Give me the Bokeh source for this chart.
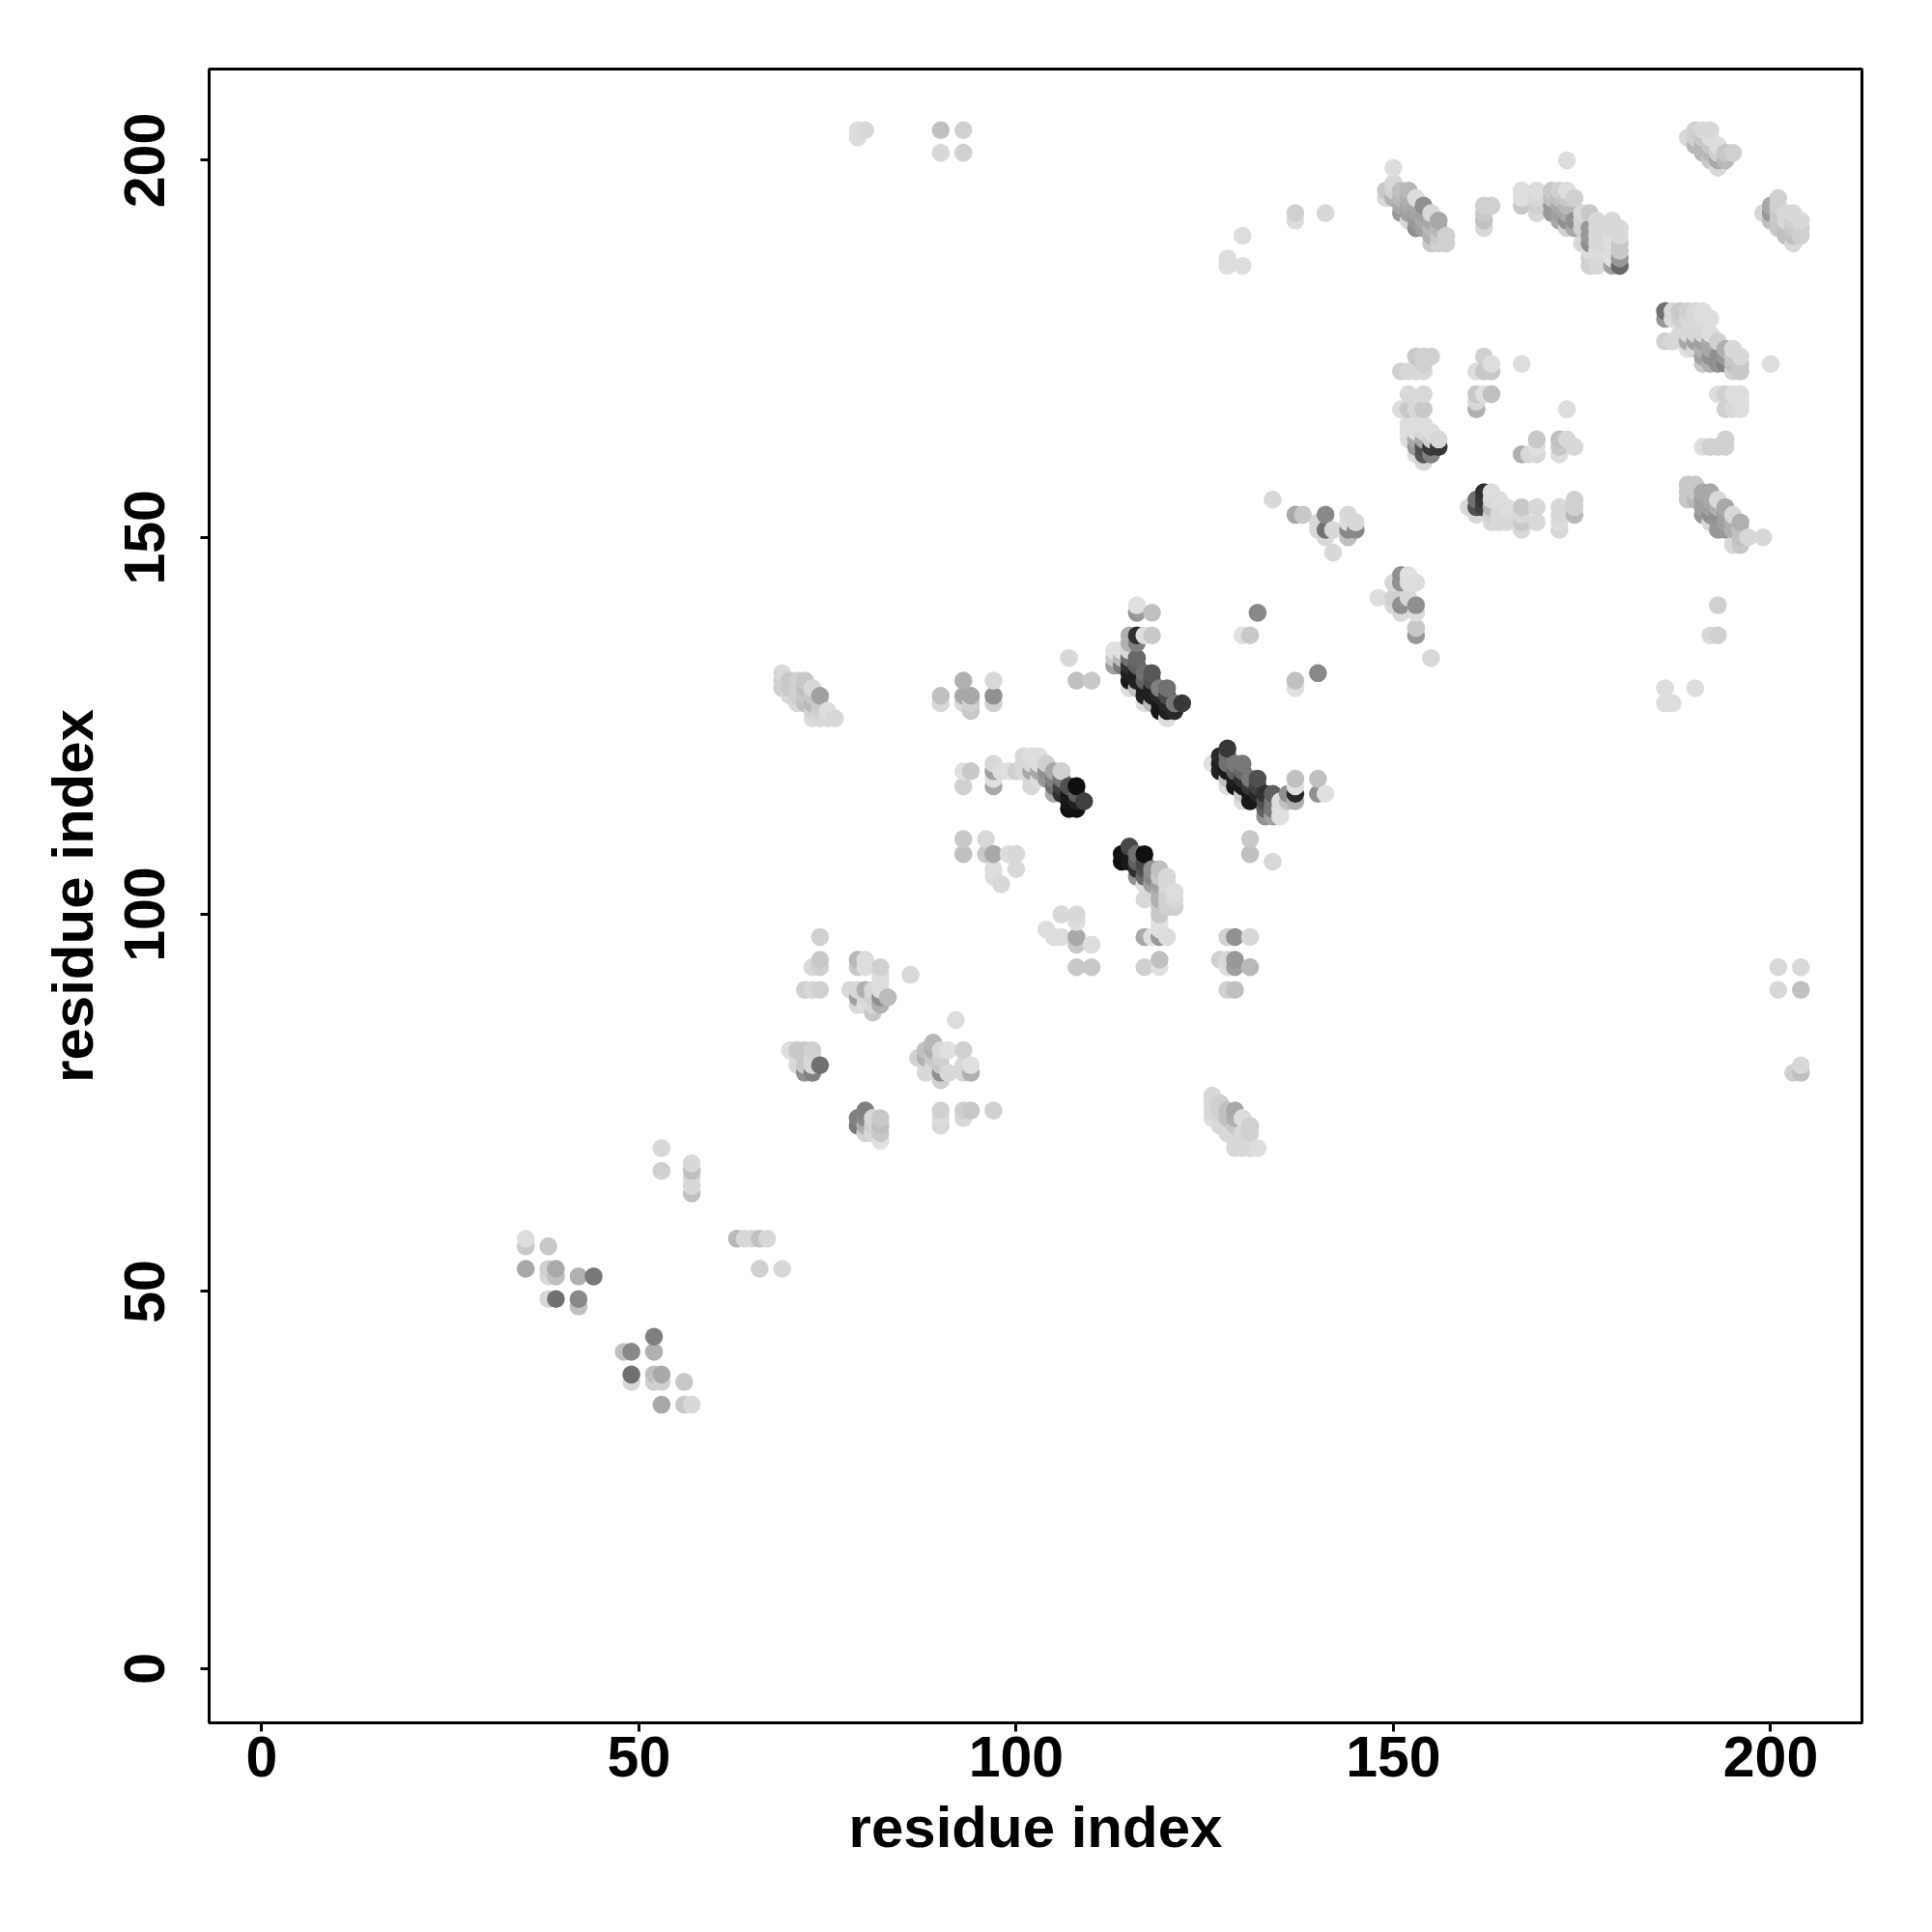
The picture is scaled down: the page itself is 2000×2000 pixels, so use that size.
from bokeh.plotting import figure
from bokeh.embed import file_html
from bokeh.resources import INLINE
from bokeh.models import FixedTicker, Range1d, ColumnDataSource

x_ticks = [0, 50, 100, 150, 200]
y_ticks = [0, 50, 100, 150, 200]
axis_title = "residue index"

# (residue i, residue j, grey level), region by region
c_35_60 = [(35,57,0xdd),(35,56,0xc8),(38,56,0xc8),(35,53,0xa8),(38,53,0xd0),(39,53,0xaa),(38,52,0xd8),(39,52,0xc0),
 (42,52,0xb0),(44,52,0x78),(38,49,0xd8),(39,49,0x70),(42,49,0x88),(42,48,0xc0),(52,44,0x80),(48,42,0xc0),(49,42,0x88),
 (52,42,0xb0),(49,39,0x70),(49,38,0xd8),(52,39,0xc0),(53,39,0xa8),(52,38,0xd0),(53,38,0xd0),(56,38,0xc8),(53,35,0xa8),
 (56,35,0xc8),(57,35,0xd8),(53,69,0xd8),(53,66,0xd0),(57,67,0xd8),(57,66,0xc0),(57,65,0xd8),(57,64,0xd8),(57,63,0xc0),
 (63,57,0xb8),(64,57,0xd8),(65,57,0xd8),(66,57,0xc0),(67,57,0xd8),(66,53,0xd0),(69,53,0xd8)]
c_70_98 = [(74,97,0xd0),(74,94,0xc8),(74,93,0xd0),(73,93,0xd8),(72,90,0xd0),(73,90,0xd8),(74,90,0xd0),
 (79,94,0xb8),(79,93,0xc8),(80,94,0xdd),(80,93,0xdd),(82,93,0xd0),(82,92,0xdd),(82,91,0xdd),(86,92,0xd8),(78,90,0xd8),(79,90,0xd8),
 (79,89,0xa0),(80,90,0xb0),(80,89,0xd8),(81,89,0xd0),(81,90,0xd8),(82,90,0xdd),(82,89,0x90),(83,89,0xbb),(79,88,0xd8),(80,88,0xdd),(81,88,0xd8),(81,87,0xc8),(82,88,0xb0),
 (92,86,0xdd),(89,83,0xb8),(89,82,0xb0),(87,81,0xd0),(88,82,0xc0),(88,81,0xb0),(90,82,0xd8),(91,82,0xe0),(93,82,0xd0),
 (89,81,0xc8),(89,80,0xd8),(90,81,0xd0),(90,80,0xc8),(90,79,0x90),(88,80,0xd8),(88,79,0xd8),(91,79,0xd8),(93,80,0xd8),(93,79,0xd8),(94,80,0xe0),(94,79,0xb0),(90,78,0xd0),
 (70,82,0xdd),(71,82,0xc8),(72,82,0xc8),(73,82,0xd0),(71,81,0xd8),(71,80,0xd8),(72,81,0xc8),(72,80,0xc8),(72,79,0x90),(73,81,0xd8),(73,79,0x80),(74,80,0x70),(73,80,0xd8),
 (80,74,0x80),(79,73,0x80),(79,72,0x78),(80,73,0x88),(80,72,0xb0),(81,73,0xd8),(81,72,0xd0),(82,73,0xc8),(82,72,0xc0),(82,71,0xc8),(81,71,0xd8),(82,70,0xe0),(80,71,0xd0),
 (90,74,0xd0),(90,73,0xdd),(90,72,0xd8),(93,74,0xd0),(94,74,0xc8),(93,73,0xd8),(97,74,0xd0)]
c_centre_top = [(116,141,0xe0),(116,140,0x98),(118,140,0xc0),(132,140,0x88),(115,137,0xb0),(116,137,0x30),(117,137,0xe0),(118,137,0xc8),
 (116,136,0x80),(115,136,0xb0),(130,137,0xe0),(131,137,0xc8),(113,135,0xe0),(114,135,0xe0),(113,134,0xc8),(113,133,0xa0),(114,134,0xb8),(114,133,0x78),
 (115,135,0xd8),(115,134,0x70),(116,134,0x68),(115,133,0x30),(116,133,0x60),(115,132,0x20),(115,131,0x18),(115,130,0xdd),(116,132,0x20),(116,131,0x20),(116,130,0xc0),
 (117,132,0x70),(118,132,0x58),(117,131,0x60),(118,131,0x50),(117,130,0x20),(117,129,0x20),(117,128,0xdd),(118,130,0x20),(118,129,0x20),(118,128,0xb8),
 (119,130,0x80),(120,130,0x70),(119,129,0x28),(120,129,0x48),(119,128,0x18),(119,127,0x18),(120,128,0x28),(120,127,0x20),(120,126,0xdd),(121,128,0x78),(121,127,0x28),(122,128,0x38),
 (137,131,0xc0),(137,130,0xe0),(140,132,0x88),(107,134,0xd8),(108,131,0xc0),(110,131,0xc8)]
c_centre_right = [(128,122,0x38),(126,120,0xe0),(127,121,0x28),(127,120,0x20),(127,119,0x20),(128,121,0x70),(128,120,0x70),(128,119,0x18),(128,118,0xc0),(128,117,0xdd),
 (129,120,0x78),(130,120,0x78),(129,119,0x60),(129,118,0x20),(129,117,0x18),(130,119,0x68),(130,118,0x30),(130,117,0x18),(130,116,0xc8),(130,115,0xdd),(131,118,0x78),(132,118,0x50),
 (131,117,0x38),(131,116,0x18),(131,115,0x18),(132,117,0x40),(132,116,0x28),(133,116,0x30),(134,116,0x60),(133,115,0x50),(134,115,0x78),(133,114,0x60),(133,113,0x90),(134,114,0x78),(134,113,0xa0),
 (135,115,0xdd),(135,114,0xe0),(135,113,0xe0),(136,116,0x90),(136,115,0xc0),(137,118,0xc0),(137,117,0xe0),(137,116,0x28),(137,115,0xb0),(140,118,0xc0),(140,116,0x90),(141,116,0xe0),
 (131,110,0xc8),(131,108,0xc0),(134,107,0xd8)]
c_centre_left = [(93,119,0xe0),(94,119,0xc8),(93,117,0xd0),(97,120,0xd8),(97,119,0xa0),(97,118,0xe0),(97,117,0xa8),(98,119,0xdd),(99,119,0xe0),(100,119,0xd0),(101,121,0xd8),(102,121,0xdd),(103,121,0xdd),
 (101,120,0xd8),(102,120,0xd8),(103,120,0xdd),(104,120,0xd0),(101,119,0xd8),(102,119,0xa8),(103,119,0xa8),(104,119,0x90),(102,118,0xd8),(102,117,0xd8),(103,118,0xdd),(104,118,0x98),(105,119,0xa8),(106,119,0xd0),
 (105,118,0x80),(105,117,0x70),(105,116,0xa8),(106,118,0x78),(106,117,0x40),(106,116,0x30),(107,117,0x50),(108,117,0x10),(107,116,0x18),(108,116,0x60),(109,115,0x40),(107,114,0x10),(108,114,0x10),(107,115,0x18),(108,115,0x20),
 (93,110,0xc8),(93,108,0xc0),(96,110,0xd8),(96,108,0xc8),(97,108,0xa8),(99,108,0xdd),(100,108,0xd8),(100,106,0xd8),(97,106,0xdd),(97,105,0xdd),(98,104,0xd8),
 (104,98,0xdd),(105,97,0xdd),(106,97,0xdd),(106,100,0xd8),(108,100,0xd8),(108,99,0xdd),(108,97,0xa8),(108,96,0xc8),(110,96,0xdd),(108,93,0xc8),(110,93,0xc8)]
c_centre_low = [(115,109,0x48),(114,108,0x10),(114,107,0x10),(115,107,0x18),(115,108,0x18),(116,108,0x70),(117,108,0x10),(116,107,0x60),(116,106,0x30),(116,105,0x90),(117,107,0x48),(117,106,0x50),(117,105,0x68),
 (118,106,0x90),(119,106,0xc0),(118,105,0x88),(118,104,0xa0),(117,104,0xdd),(117,102,0xd8),(119,105,0xc8),(119,104,0xa0),(119,103,0xb0),(119,102,0xb0),(120,104,0xd8),(120,105,0xd8),(120,103,0xd0),(120,102,0xd0),(121,103,0xdd),(121,102,0xd8),(121,101,0xd0),
 (120,101,0xd0),(119,101,0xc8),(119,100,0xc8),(119,99,0xe0),(119,98,0xe0),(117,97,0xa8),(118,97,0xe0),(119,97,0x98),(120,97,0xdd),(117,93,0xd0),(119,94,0xc0),(119,93,0xe0),
 (127,94,0xd0),(128,97,0xd0),(129,97,0x90),(131,97,0xd8),(128,93,0xdd),(128,94,0xd8),(129,94,0x98),(129,93,0xa0),(131,93,0xb8),(128,90,0xd0),(129,90,0xc0)]
c_helix_90_130 = [(93,131,0xb0),(97,131,0xd8),(90,129,0xc0),(90,128,0xd8),(93,129,0xa8),(94,129,0xa8),(93,128,0xd8),(94,128,0xd0),(94,127,0xc8),(97,129,0x90),(97,128,0xd0),
 (69,132,0xd8),(69,131,0xd0),(69,130,0xd0),(70,131,0xc8),(71,131,0xd0),(72,131,0xc8),(70,130,0xc8),(71,130,0xd0),(72,130,0xc0),(73,130,0xd8),(74,129,0xa0),(70,129,0xd8),(71,129,0xd0),(72,129,0xc8),(73,129,0xc8),
 (71,128,0xd8),(72,128,0xc0),(73,128,0xb8),(74,128,0xc8),(75,127,0xdd),(73,126,0xdd),(74,126,0xd8),(75,126,0xd8),(76,126,0xd8),(73,127,0xd0),(74,127,0xd0),
 (126,76,0xd8),(126,75,0xd8),(127,75,0xd0),(126,74,0xd8),(126,73,0xdd),(127,74,0xd0),(128,74,0xc0),(129,74,0xa8),(128,73,0xc0),(129,73,0xb0),(130,73,0xdd),(127,73,0xd8),(127,72,0xd8),(128,72,0xd8),(129,72,0xc8),(131,72,0xd0),
 (128,71,0xd8),(129,71,0xd8),(130,71,0xd8),(131,71,0xd0),(129,70,0xd8),(130,70,0xd8),(129,69,0xd8),(130,69,0xd8),(131,69,0xd8),(132,69,0xdd)]
c_top_mid = [(150,199,0xdd),(149,196,0xc8),(149,195,0xd8),(150,197,0xd8),(150,196,0xd0),(150,195,0xb0),(151,196,0xc0),(151,195,0xb8),(152,196,0xb8),(151,194,0xa8),(151,193,0x98),(152,195,0xb0),(152,194,0xa8),(152,193,0xa0),
 (153,195,0xdd),(153,194,0xa8),(153,193,0xa0),(153,192,0x98),(152,192,0xd8),(154,194,0x90),(154,193,0xa0),(154,192,0xa8),(154,191,0xa0),(153,191,0x90),(155,193,0xd8),(155,192,0xa8),(155,191,0xb8),(155,190,0xb0),(155,189,0xc8),
 (156,192,0xa8),(156,191,0xb8),(156,190,0xc8),(156,189,0xd0),(157,190,0xd0),(157,189,0xd0),(162,194,0xd0),(163,194,0xd0),(162,193,0xc8),(162,192,0xc0),(162,191,0xd8),
 (167,196,0xdd),(167,195,0xdd),(167,194,0xc8),(169,196,0xdd),(169,195,0xd8),(169,194,0xd0),(169,193,0xd8),(171,196,0xc8),(172,196,0xd0),(173,196,0xdd),(171,195,0xc0),(172,195,0xc0),(173,195,0xc8),(174,195,0xd0),
 (171,194,0x98),(172,194,0xa8),(173,194,0xb8),(171,193,0x98),(172,193,0xa0),(173,193,0xa8),(172,192,0xa8),(173,192,0x90),(174,192,0x90),(174,191,0xa8),(173,191,0xd0),(175,193,0xd8),(176,193,0xc8),(175,192,0xd0),(175,191,0xd0),(175,189,0xd8),
 (176,191,0x98),(176,190,0x98),(176,189,0x90),(177,192,0xd8),(177,191,0xd8),(177,190,0xd8),(177,189,0xd8),(176,188,0xdd),(176,187,0xd0),(176,186,0xd0),(177,188,0xdd),(177,187,0xd8),(177,186,0xd8),(179,192,0xd8),(179,191,0xd8),(179,190,0xdd),(179,189,0xdd),(179,188,0xdd),(179,187,0xe0),(179,186,0xa0),
 (180,191,0xd8),(180,190,0xd8),(180,189,0xc8),(180,188,0xc8),(180,187,0x98),(180,186,0x68),(173,200,0xdd),
 (130,190,0xdd),(128,187,0xdd),(128,186,0xdd),(130,186,0xdd),(137,193,0xd0),(137,192,0xdd),(141,193,0xd8),
 (79,204,0xdd),(79,203,0xdd),(80,204,0xd8),(90,204,0xc0),(93,204,0xd0),(90,201,0xd8),(93,201,0xd0)]
c_ring = [(153,174,0xc8),(154,174,0xd0),(155,174,0xd0),(151,172,0xd0),(152,172,0xd8),(153,172,0xd8),(154,172,0xd8),(154,173,0xd0),(162,174,0xd0),(163,173,0xdd),(161,172,0xdd),(162,172,0xc8),(163,172,0xc8),(167,173,0xdd),
 (152,169,0xd8),(154,169,0xd8),(151,167,0xdd),(152,167,0xc8),(153,167,0xd8),(154,167,0xc8),(161,169,0xc8),(162,169,0xe0),(163,169,0xc0),(161,168,0xd8),(161,167,0xb0),(173,167,0xdd),
 (152,165,0xdd),(152,164,0xdd),(152,163,0xdd),(153,165,0xdd),(153,164,0xdd),(153,163,0xa8),(153,162,0x98),(153,161,0xdd),(154,165,0xdd),(154,164,0xd8),(154,163,0xa8),(154,162,0x50),(154,161,0x58),(154,160,0xd8),(155,164,0xdd),(155,163,0xd0),(155,162,0x38),(155,161,0x80),(156,163,0xd8),(156,162,0x38),
 (169,163,0xc8),(169,162,0xe0),(169,161,0xd8),(167,161,0xb0),(168,161,0xd8),(172,163,0xc0),(173,163,0xd8),(172,162,0xc8),(172,161,0xdd),(174,162,0xd8),
 (162,156,0x30),(161,155,0x70),(161,154,0x50),(160,154,0xd8),(162,155,0x38),(162,154,0x40),(161,153,0xd8),(163,156,0xdd),(163,155,0xd8),(163,154,0xb8),(163,153,0xd0),(164,155,0xdd),(164,154,0xd8),(165,154,0xdd),(163,152,0xd8),(164,152,0xd8),(165,152,0xd8),(164,153,0xd8),(165,153,0xd8),
 (167,154,0xc8),(167,153,0xd8),(167,152,0xc8),(167,151,0xd8),(169,154,0xd8),(169,152,0xd8),(172,154,0xd8),(172,153,0xd8),(172,152,0xdd),(172,151,0xd8),(174,155,0xd0),(174,154,0xd0),(174,153,0xb8)]
c_mid = [(151,145,0x90),(151,144,0x90),(152,145,0xe0),(150,144,0xd8),(153,144,0xdd),(152,144,0xdd),(148,142,0xdd),(153,141,0x90),(151,141,0x90),(151,140,0xd8),(152,142,0xd8),(150,142,0xd0),(150,141,0xd8),(153,138,0xc8),(153,137,0x98),(155,134,0xd8),(153,140,0xdd),
 (134,155,0xd8),(137,153,0xa8),(138,153,0xc8),(141,153,0x88),(140,152,0xd8),(140,151,0xd8),(141,151,0x70),(142,151,0xd8),(141,150,0xd8),(142,148,0xd8),(144,150,0xc0),(144,153,0xd8),(145,152,0xd8),(144,151,0x88),(145,151,0x88),(144,152,0xdd)]
c_far = [(189,203,0xd8),(190,204,0xd0),(191,204,0xd8),(192,204,0xd8),(190,203,0xd0),(191,203,0xc8),(190,202,0xb8),(191,202,0xb8),(192,203,0xdd),(192,202,0xc8),(191,201,0xb8),(192,201,0xb8),(193,202,0xdd),(193,201,0xd0),(194,201,0xc8),(193,200,0xa8),(194,200,0xb8),(193,199,0xd8),(195,201,0xd0),(192,200,0xc8),
 (201,195,0xd0),(200,194,0xa8),(199,193,0xd8),(200,193,0x98),(201,194,0xd0),(201,193,0xc8),(200,192,0xc0),(201,192,0xc8),(202,193,0xd8),(202,192,0xd8),(201,191,0xc8),(202,191,0xc0),(203,193,0xd8),(203,192,0xd0),(203,191,0xc8),(204,192,0xd8),(204,191,0xd0),(204,190,0xd0),(202,190,0xc0),(203,190,0xc0),(203,189,0xd8),
 (186,180,0x70),(186,179,0x98),(186,176,0xd0),(187,180,0xd8),(187,179,0xdd),(187,176,0xd8),(188,180,0xc8),(188,179,0xd0),(189,180,0xd0),(189,179,0xd8),(190,180,0xd8),(190,179,0xd8),(191,180,0xdd),(191,179,0xdd),(192,179,0xdd),
 (188,177,0xd8),(189,177,0xd8),(190,177,0xd8),(191,177,0xd8),(192,177,0xdd),(189,176,0xa8),(190,176,0xa0),(191,176,0xa0),(192,176,0xa8),(193,176,0xd0),(189,175,0xdd),(190,175,0xd8),(191,175,0xb0),(192,175,0xa8),(192,174,0x90),(191,174,0xa0),(191,173,0xc8),(192,173,0xb0),(193,174,0x90),(193,173,0x90),
 (194,175,0xb0),(194,174,0x98),(194,173,0x80),(195,175,0xd8),(195,174,0xc8),(195,173,0xc0),(196,174,0xd8),(196,173,0xc8),(196,172,0xc8),(195,172,0xd0),(200,173,0xdd),
 (193,169,0xdd),(194,169,0xd0),(195,169,0xdd),(196,169,0xdd),(194,167,0xd0),(195,167,0xd8),(196,167,0xdd),(196,168,0xdd),(191,162,0xdd),(192,162,0xd0),(193,162,0xd0),(194,162,0xd0),(194,163,0xd0),
 (189,157,0xc8),(190,157,0xc8),(189,156,0xc8),(189,155,0xc8),(190,156,0xc8),(191,156,0xa8),(192,156,0xa8),(190,155,0xb8),(191,155,0xa0),(192,155,0xa8),(193,155,0xd8),(191,154,0xa0),(191,153,0x98),(192,154,0xa0),(192,153,0x90),(193,154,0xb0),(193,153,0x90),(194,154,0xa8),(194,153,0xa0),(193,152,0x98),(194,152,0xa0),(194,151,0x98),(193,151,0x98),(192,152,0xd8),
 (195,153,0xd8),(195,152,0xb0),(195,151,0xb0),(196,152,0xb0),(196,151,0xc0),(196,150,0xc0),(195,149,0xd8),(196,149,0xc8),(197,150,0xd8),(199,150,0xd8),
 (201,93,0xd8),(204,93,0xd8),(201,90,0xd8),(204,90,0xc0),(203,79,0xd0),(204,80,0xd8),(204,79,0xc0),
 (193,141,0xd0),(192,137,0xd8),(193,137,0xd0),(186,130,0xdd),(186,128,0xdd),(187,128,0xdd),(190,130,0xdd)]

contacts = c_35_60 + c_70_98 + c_centre_top + c_centre_right + c_centre_left + c_centre_low + c_helix_90_130 + c_top_mid + c_ring + c_mid + c_far
contacts = sorted(set(contacts), key=lambda t: (t[0], t[1]))
src = ColumnDataSource(dict(
    i=[t[0] for t in contacts],
    j=[t[1] for t in contacts],
    color=["#%02x%02x%02x" % (t[2], t[2], t[2]) for t in contacts],
))

p = figure(frame_width=1711, frame_height=1712, width=1984, height=1984,
           x_range=Range1d(-6.96, 212.1), y_range=Range1d(-7.2, 212.1),
           output_backend="svg", toolbar_location=None,
           min_border_left=216, min_border_top=71, min_border_right=50, min_border_bottom=190)
p.scatter("i", "j", source=src, size=18.6, color="color", line_color=None)

p.grid.visible = False
p.outline_line_color = "black"
p.outline_line_width = 3
for ax, ticks in ((p.xaxis[0], x_ticks), (p.yaxis[0], y_ticks)):
    ax.ticker = FixedTicker(ticks=ticks)
    ax.axis_line_color = None
    ax.major_tick_line_color = "black"
    ax.major_tick_line_width = 3
    ax.major_tick_out = 9
    ax.major_tick_in = 0
    ax.minor_tick_line_color = None
    ax.major_label_text_font = "Liberation Sans"
    ax.major_label_text_font_style = "bold"
    ax.major_label_text_font_size = "59px"
    ax.major_label_text_color = "black"
    ax.axis_label = axis_title
    ax.axis_label_text_font = "Liberation Sans"
    ax.axis_label_text_font_style = "bold"
    ax.axis_label_text_font_size = "60px"
    ax.axis_label_text_color = "black"
p.xaxis[0].major_label_standoff = 5
p.xaxis[0].axis_label_standoff = 16
p.yaxis[0].major_label_orientation = "vertical"
p.yaxis[0].major_label_standoff = 37
p.yaxis[0].axis_label_standoff = 18

open("out.html", "w").write(file_html(p, INLINE))
